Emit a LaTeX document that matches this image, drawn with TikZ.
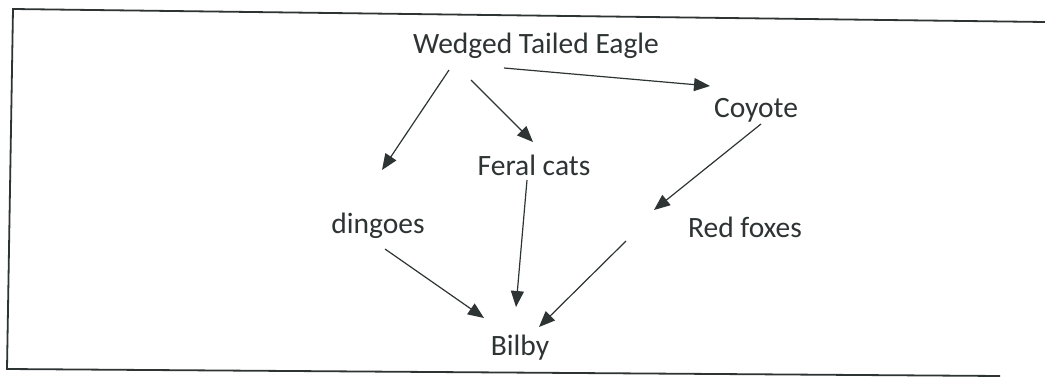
\documentclass[tikz,border=0pt]{standalone}
\usepackage{fontspec}
\setmainfont{Carlito}
\usetikzlibrary{arrows.meta,calc}
\definecolor{ink}{HTML}{2E3333}
\tikzset{
  label/.style={anchor=base, text=ink, inner sep=0pt, font=\fontsize{29.5}{35}\selectfont},
  arr/.style={draw=ink, line width=1.2pt, -{Triangle[length=16pt,width=13pt]}},
  frame/.style={draw=ink, line width=1.8pt, line join=miter}
}
\begin{document}
\begin{tikzpicture}[x=1pt,y=-1pt]
  \useasboundingbox[fill=white] (0,0) rectangle (1045,378);

  % outer frame (top, left and bottom edges)
  \draw[frame] (1045,22) -- (13,9) -- (7,369) -- (1000,376);

  % species
  \node[label] (eagle)  at (536,53)  {Wedged Tailed Eagle};
  \node[label] (coyote) at (756,117) {Coyote};
  \node[label] (cats)   at (534,175) {Feral cats};
  \node[label] (dingo)  at (378,233) {dingoes};
  \node[label] (fox)    at (745,237) {Red foxes};
  \node[label] (bilby)  at (520,355) {Bilby};

  % feeding links
  \draw[arr] ($(eagle.base)+(-87,17)$)  -- ($(dingo.base)+(4,-63)$);
  \draw[arr] ($(eagle.base)+(-65,27)$)  -- ($(cats.base)+(-1,-33)$);
  \draw[arr] ($(eagle.base)+(-32,15)$)  -- ($(coyote.base)+(-46,-31)$);
  \draw[arr] ($(coyote.base)+(5,7)$)    -- ($(fox.base)+(-91,-27)$);
  \draw[arr] ($(cats.base)+(-7,5)$)     -- ($(bilby.base)+(-4,-48)$);
  \draw[arr] ($(dingo.base)+(7,16)$)    -- ($(bilby.base)+(-36,-37)$);
  \draw[arr] ($(fox.base)+(-119,4)$)    -- ($(bilby.base)+(19,-28)$);
\end{tikzpicture}
\end{document}
